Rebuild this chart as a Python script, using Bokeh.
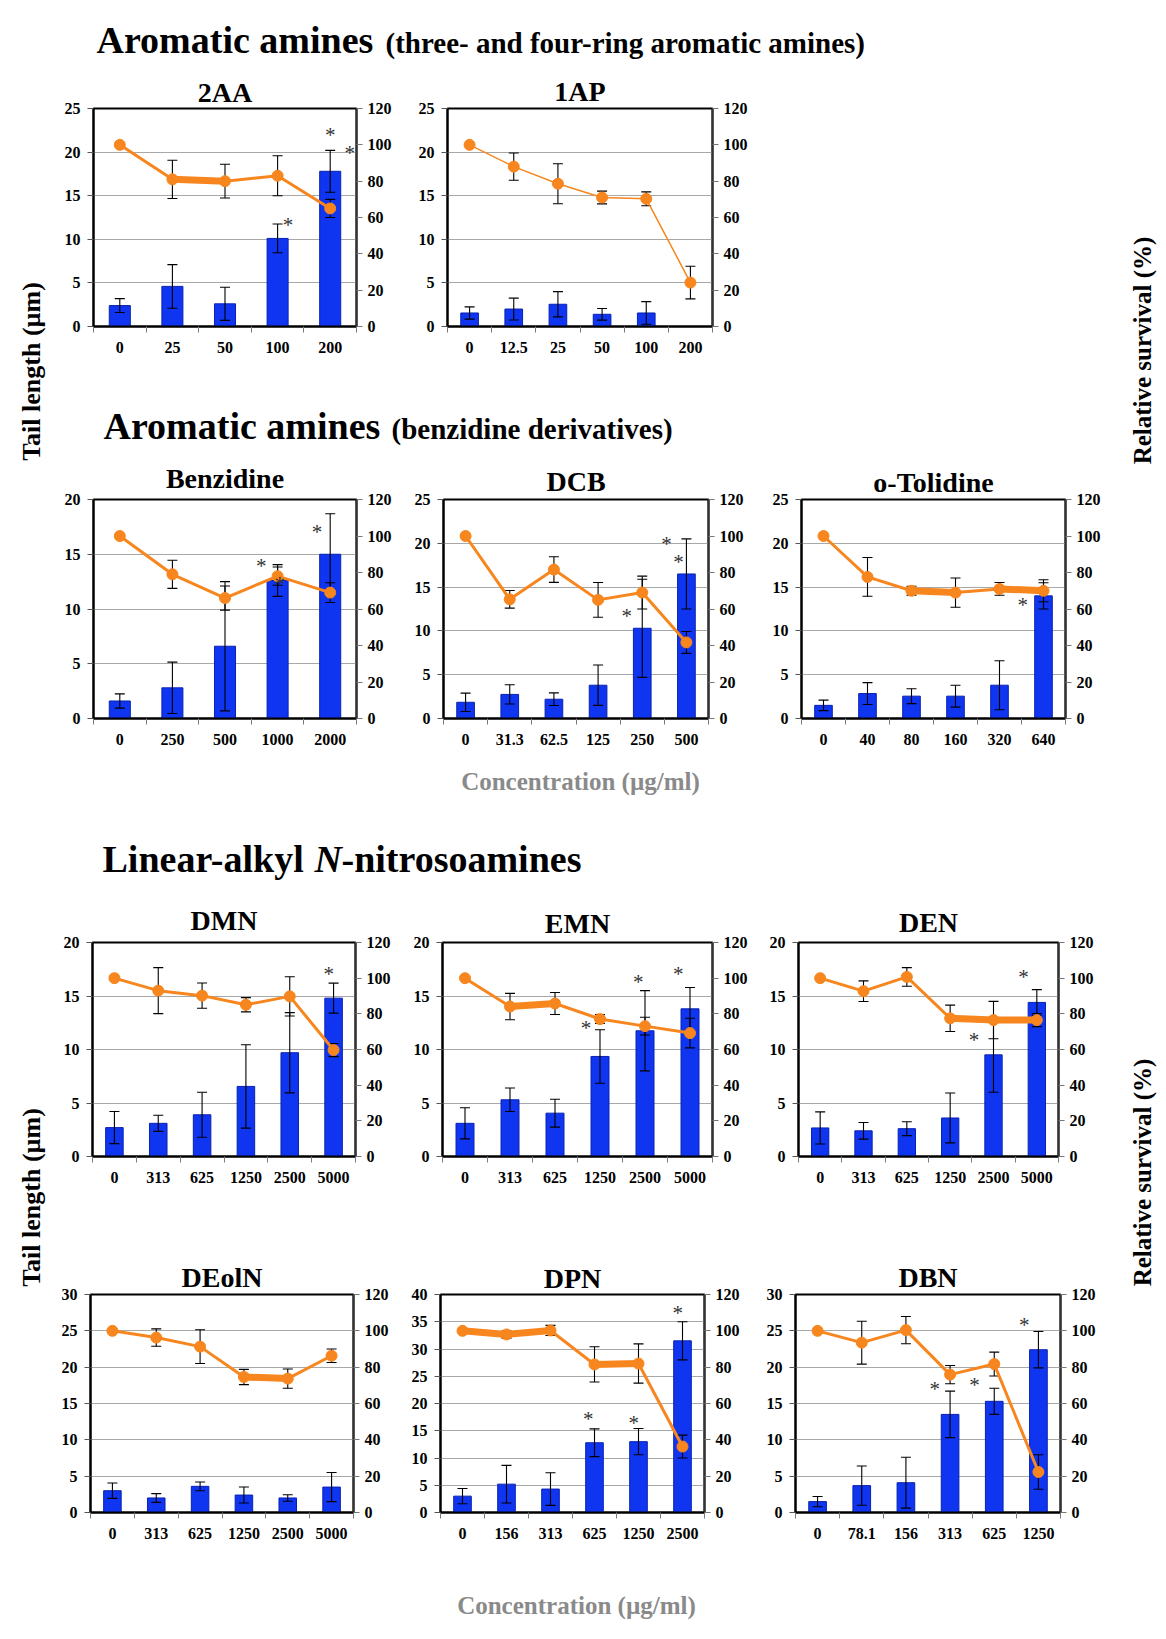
import math
from bokeh.plotting import figure
from bokeh.models import Range1d, LinearAxis, FixedTicker, Spacer
from bokeh.layouts import row, column
from bokeh.embed import file_html
from bokeh.resources import INLINE
from bokeh.core.properties import value

NAN = float("nan")
FONT = "Liberation Serif"
BLUE = "#0f35f0"
BLUE_EDGE = "#0a22b0"
ORANGE = "#f7861e"
GRAY_TXT = "#8a8a8a"

# ---------------- data ----------------
AA2_labels = ["0", "25", "50", "100", "200"]
AA2_tail = [2.4, 4.6, 2.6, 10.1, 17.8]
AA2_tail_err = [0.8, 2.5, 1.9, 1.65, 2.4]
AA2_surv = [100, 81, 80, 83, 65]
AA2_surv_err = [0, 10.5, 9.3, 11, 5]
AA2_stars = [(3, 0.2, 11.6), (4, 0.0, 22.0), (4, 0.37, 19.9)]
AA2_thick = [1]

AP1_labels = ["0", "12.5", "25", "50", "100", "200"]
AP1_tail = [1.55, 2.0, 2.55, 1.4, 1.55, NAN]
AP1_tail_err = [0.7, 1.25, 1.45, 0.67, 1.3, NAN]
AP1_surv = [100, 88, 78.6, 71, 70.3, 24.2]
AP1_surv_err = [0, 7.5, 11, 3.5, 3.8, 9]
AP1_stars = []
AP1_thick = []

BZ_labels = ["0", "250", "500", "1000", "2000"]
BZ_tail = [1.6, 2.8, 6.6, 12.6, 15.0]
BZ_tail_err = [0.65, 2.35, 5.9, 1.45, 3.7]
BZ_surv = [100, 79, 66, 78, 69]
BZ_surv_err = [0, 7.7, 6.6, 5, 5.4]
BZ_stars = [(3, -0.31, 13.9), (3, 0.04, 12.3), (4, -0.25, 17.0)]
BZ_thick = []

DCB_labels = ["0", "31.3", "62.5", "125", "250", "500"]
DCB_tail = [1.85, 2.75, 2.2, 3.8, 10.3, 16.5]
DCB_tail_err = [1.05, 1.1, 0.72, 2.3, 5.6, 4.0]
DCB_surv = [100, 65.3, 81.6, 65, 69, 41.7]
DCB_surv_err = [0, 4.8, 7, 9.5, 9, 6]
DCB_stars = [(4, -0.35, 11.7), (5, -0.45, 19.9), (5, -0.18, 17.9)]
DCB_thick = []

OT_labels = ["0", "40", "80", "160", "320", "640"]
OT_tail = [1.5, 2.85, 2.55, 2.55, 3.8, 14.0]
OT_tail_err = [0.6, 1.25, 0.85, 1.25, 2.8, 1.5]
OT_surv = [100, 77.6, 70, 69, 71, 70]
OT_surv_err = [0, 10.6, 2.5, 8, 3.5, 6]
OT_stars = [(5, -0.47, 13.0)]
OT_thick = [2, 4]

NIT_labels = ["0", "313", "625", "1250", "2500", "5000"]

DMN_tail = [2.7, 3.1, 3.9, 6.55, 9.7, 14.8]
DMN_tail_err = [1.5, 0.75, 2.1, 3.9, 3.75, 1.4]
DMN_surv = [100, 93, 90.2, 85.1, 89.8, 59.7]
DMN_surv_err = [0, 12.9, 7.1, 4, 11, 3.7]
DMN_stars = [(5, -0.11, 17.1)]
DMN_thick = []

EMN_tail = [3.1, 5.3, 4.05, 9.35, 11.75, 13.8]
EMN_tail_err = [1.45, 1.1, 1.3, 2.5, 3.75, 2.0]
EMN_surv = [100, 84.1, 85.8, 77.1, 73.1, 69.2]
EMN_surv_err = [0, 7.4, 6.2, 2.5, 5, 8.3]
EMN_stars = [(3, -0.31, 12.0), (4, -0.15, 16.3), (5, -0.26, 17.1)]
EMN_thick = [1]

DEN_tail = [2.67, 2.4, 2.6, 3.6, 9.5, 14.4]
DEN_tail_err = [1.5, 0.78, 0.65, 2.33, 3.5, 1.2]
DEN_surv = [100, 92.7, 100.7, 77.5, 76.5, 76.5]
DEN_surv_err = [0, 5.8, 5.2, 7.4, 10.5, 3.7]
DEN_stars = [(4, -0.45, 10.9), (5, -0.31, 16.8)]
DEN_thick = [3, 4]

DEOLN_tail = [3.0, 2.0, 3.6, 2.4, 2.0, 3.5]
DEOLN_tail_err = [1.05, 0.6, 0.6, 1.1, 0.45, 2.0]
DEOLN_surv = [100, 96.3, 91.3, 74.6, 73.7, 86.3]
DEOLN_surv_err = [0, 4.8, 9.3, 4.2, 5.3, 3.7]
DEOLN_stars = []
DEOLN_thick = [3]

DPN_labels = ["0", "156", "313", "625", "1250", "2500"]
DPN_tail = [3.0, 5.2, 4.3, 12.8, 13.0, 31.5]
DPN_tail_err = [1.4, 3.45, 3.0, 2.55, 2.4, 3.5]
DPN_surv = [100, 98, 100.2, 81.5, 82, 36.3]
DPN_surv_err = [0, 2, 2.8, 9.7, 10.8, 6.3]
DPN_stars = [(3, -0.14, 17.2), (4, -0.11, 16.5), (5, -0.11, 36.6)]
DPN_thick = [0, 1, 3]

DBN_labels = ["0", "78.1", "156", "313", "625", "1250"]
DBN_tail = [1.5, 3.7, 4.1, 13.5, 15.3, 22.4]
DBN_tail_err = [0.7, 2.7, 3.5, 3.2, 1.8, 2.5]
DBN_surv = [100, 93.5, 100.4, 75.9, 81.7, 22.3]
DBN_surv_err = [0, 11.8, 7.5, 5, 6.6, 9.5]
DBN_stars = [(3, -0.35, 17.0), (4, -0.45, 17.5), (5, -0.32, 25.8)]
DBN_thick = []

SURV_TICKS = [0, 20, 40, 60, 80, 100, 120]


def errbars(p, xs, vals, errs, rng=None):
    ex, lo, hi = [], [], []
    for x, v, e in zip(xs, vals, errs):
        if e is None or (isinstance(e, float) and math.isnan(e)) or e <= 0:
            continue
        ex.append(x)
        lo.append(v - e)
        hi.append(v + e)
    kw = {} if rng is None else {"y_range_name": rng}
    p.segment(x0=ex, y0=lo, x1=ex, y1=hi, line_color="black", line_width=1.1, **kw)
    p.scatter(ex, hi, marker="dash", size=10, line_color="black", line_width=1.1, **kw)
    p.scatter(ex, lo, marker="dash", size=10, line_color="black", line_width=1.1, **kw)


def style_labels(ax):
    ax.major_label_text_font = FONT
    ax.major_label_text_font_size = "16px"
    ax.major_label_text_font_style = "bold"
    ax.major_label_text_color = "black"


def panel(title, labels, tail, tail_err, surv, surv_err, ymax, stars, thick,
          bl, fw, br, bt, fh, bb, tstand=2, line_w=3):
    n = len(labels)
    p = figure(width=bl + fw + br, height=bt + fh + bb,
               x_range=Range1d(0, n), y_range=Range1d(0, ymax),
               output_backend="svg", toolbar_location=None,
               min_border_left=bl, min_border_right=br,
               min_border_top=bt, min_border_bottom=bb, title=title)
    p.extra_y_ranges = {"surv": Range1d(0, 120)}
    p.background_fill_color = "white"
    p.border_fill_color = "white"
    p.outline_line_color = "black"
    p.outline_line_width = 2

    p.title.align = "center"
    p.title.text_font = FONT
    p.title.text_font_size = "28px"
    p.title.text_font_style = "bold"
    p.title.text_color = "black"
    p.title.standoff = tstand

    xs = [i + 0.5 for i in range(n)]

    # x axis: labels at category centres, ticks at category boundaries
    xa = p.xaxis[0]
    xa.ticker = FixedTicker(ticks=xs, minor_ticks=list(range(n + 1)))
    xa.major_label_overrides = {x: lab for x, lab in zip(xs, labels)}
    xa.major_tick_line_color = None
    xa.major_tick_out = 6
    xa.major_tick_in = 0
    xa.minor_tick_line_color = "#7a7a7a"
    xa.minor_tick_out = 6
    xa.minor_tick_in = 0
    xa.axis_line_color = "black"
    xa.axis_line_width = 2
    xa.major_label_standoff = 9
    style_labels(xa)

    # left axis (tail length)
    ya = p.yaxis[0]
    ya.ticker = FixedTicker(ticks=list(range(0, ymax + 1, 5)))
    ya.major_tick_out = 6
    ya.major_tick_in = 0
    ya.major_tick_line_color = "#555555"
    ya.minor_tick_line_color = None
    ya.axis_line_color = "black"
    ya.axis_line_width = 2
    ya.major_label_standoff = 7
    style_labels(ya)

    # right axis (relative survival)
    ra = LinearAxis(y_range_name="surv", ticker=FixedTicker(ticks=SURV_TICKS))
    ra.major_tick_out = 6
    ra.major_tick_in = 0
    ra.major_tick_line_color = "#777777"
    ra.minor_tick_line_color = None
    ra.axis_line_color = "#333333"
    ra.axis_line_width = 2
    ra.major_label_standoff = 5
    style_labels(ra)
    p.add_layout(ra, "right")

    p.xgrid.visible = False
    p.ygrid.grid_line_color = "#a8a8a8"
    p.ygrid.grid_line_width = 1

    # bars
    p.vbar(x=xs, top=tail, width=0.4, fill_color=BLUE, line_color=BLUE_EDGE, line_width=1)
    errbars(p, xs, tail, tail_err)
    errbars(p, xs, surv, surv_err, "surv")

    # survival line
    p.line(xs, surv, line_color=ORANGE, line_width=line_w, y_range_name="surv")
    if thick:
        p.segment(x0=[xs[i] for i in thick], y0=[surv[i] for i in thick],
                  x1=[xs[i + 1] for i in thick], y1=[surv[i + 1] for i in thick],
                  line_color=ORANGE, line_width=7, y_range_name="surv")
    p.scatter(xs, surv, size=11, fill_color=ORANGE, line_color=ORANGE, y_range_name="surv")

    # significance stars
    if stars:
        p.text(x=[xs[i] + dx for i, dx, y in stars], y=[y for i, dx, y in stars],
               text=["*"] * len(stars), text_font=value(FONT), text_font_size="21px",
               text_align="center", text_baseline="middle", text_color="#333333")
    return p


def textfig(W, H, items):
    p = figure(width=W, height=H, x_range=Range1d(0, W), y_range=Range1d(H, 0),
               output_backend="svg", toolbar_location=None, min_border=0,
               x_axis_type=None, y_axis_type=None)
    p.outline_line_color = None
    p.background_fill_color = "white"
    p.border_fill_color = "white"
    for it in items:
        p.text(x=[it["x"]], y=[it["y"]], text=[it["t"]], text_font=value(FONT),
               text_font_size=it.get("size", "24px"),
               text_font_style=it.get("style", "bold"),
               text_color=it.get("color", "black"),
               text_align=it.get("align", "left"),
               text_baseline="middle",
               angle=it.get("angle", 0))
    return p


MAIN_W = 1057

# header 1
hdr1 = textfig(MAIN_W, 62, [
    dict(x=38, y=39, t="Aromatic amines", size="38px"),
    dict(x=327, y=42.5, t="(three- and four-ring aromatic amines)", size="29px"),
])

p2aa = panel("2AA", AA2_labels, AA2_tail, AA2_tail_err, AA2_surv, AA2_surv_err, 25,
             AA2_stars, AA2_thick, 35, 263, 44, 46, 218, 40, tstand=2)
p1ap = panel("1AP", AP1_labels, AP1_tail, AP1_tail_err, AP1_surv, AP1_surv_err, 25,
             AP1_stars, AP1_thick, 47, 265, 48, 41, 223, 40, tstand=3, line_w=1.5)
row1 = row(p2aa, p1ap, Spacer(width=355, height=304), spacing=0)

hdr2 = textfig(MAIN_W, 82, [
    dict(x=45, y=59, t="Aromatic amines", size="38px"),
    dict(x=333, y=62.5, t="(benzidine derivatives)", size="29px"),
])

pbz = panel("Benzidine", BZ_labels, BZ_tail, BZ_tail_err, BZ_surv, BZ_surv_err, 20,
            BZ_stars, BZ_thick, 35, 263, 44, 50, 220, 37, tstand=12)
pdcb = panel("DCB", DCB_labels, DCB_tail, DCB_tail_err, DCB_surv, DCB_surv_err, 25,
             DCB_stars, DCB_thick, 43, 265, 47, 50, 220, 37, tstand=6)
pot = panel("o-Tolidine", OT_labels, OT_tail, OT_tail_err, OT_surv, OT_surv_err, 25,
            OT_stars, OT_thick, 46, 264, 50, 51, 221, 35, tstand=4)
row2 = row(pbz, pdcb, pot, spacing=0)

mid = textfig(MAIN_W, 134, [
    dict(x=522, y=26, t="Concentration (µg/ml)", size="25px", color=GRAY_TXT,
         align="center"),
    dict(x=44, y=103, t="Linear-alkyl ", size="38px"),
    dict(x=256, y=103, t="N", size="38px", style="bold italic"),
    dict(x=283, y=103, t="-nitrosoamines", size="38px"),
])

pdmn = panel("DMN", NIT_labels, DMN_tail, DMN_tail_err, DMN_surv, DMN_surv_err, 20,
             DMN_stars, DMN_thick, 34, 263, 45, 53, 214, 44, tstand=13)
pemn = panel("EMN", NIT_labels, EMN_tail, EMN_tail_err, EMN_surv, EMN_surv_err, 20,
             EMN_stars, EMN_thick, 42, 270, 43, 53, 214, 44, tstand=8)
pden = panel("DEN", NIT_labels, DEN_tail, DEN_tail_err, DEN_surv, DEN_surv_err, 20,
             DEN_stars, DEN_thick, 43, 260, 57, 53, 214, 44, tstand=10)
row3 = row(pdmn, pemn, pden, spacing=0)

pdeoln = panel("DEolN", NIT_labels, DEOLN_tail, DEOLN_tail_err, DEOLN_surv, DEOLN_surv_err, 30,
               DEOLN_stars, DEOLN_thick, 30, 265, 47, 94, 218, 43, tstand=3)
pdpn = panel("DPN", DPN_labels, DPN_tail, DPN_tail_err, DPN_surv, DPN_surv_err, 40,
             DPN_stars, DPN_thick, 40, 264, 51, 94, 218, 43, tstand=2)
pdbn = panel("DBN", DBN_labels, DBN_tail, DBN_tail_err, DBN_surv, DBN_surv_err, 30,
             DBN_stars, DBN_thick, 40, 265, 55, 94, 218, 43, tstand=4)
row4 = row(pdeoln, pdpn, pdbn, spacing=0)

foot = textfig(MAIN_W, 73, [
    dict(x=518, y=50, t="Concentration (µg/ml)", size="25px", color=GRAY_TXT,
         align="center"),
])

main = column(hdr1, row1, hdr2, row2, mid, row3, row4, foot, spacing=0)

left = textfig(58, 1628, [
    dict(x=31, y=371, t="Tail length (µm)", size="26px", align="center",
         angle=math.pi / 2),
    dict(x=31, y=1197, t="Tail length (µm)", size="26px", align="center",
         angle=math.pi / 2),
])
right = textfig(43, 1628, [
    dict(x=27, y=350, t="Relative survival (%)", size="25px", align="center",
         angle=math.pi / 2),
    dict(x=27, y=1172, t="Relative survival (%)", size="25px", align="center",
         angle=math.pi / 2),
])

page = row(left, main, right, spacing=0)

open("out.html", "w").write(file_html(page, INLINE))
